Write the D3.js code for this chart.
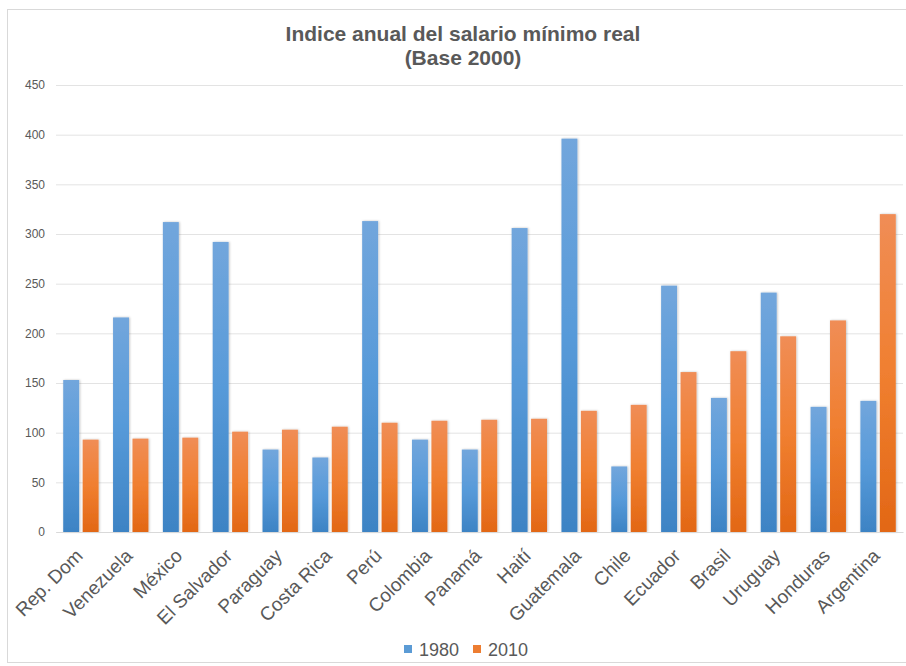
<!DOCTYPE html>
<html>
<head>
<meta charset="utf-8">
<script src="https://cdn.jsdelivr.net/npm/d3@7"></script>
<style>
  html, body { margin: 0; padding: 0; background: #fff; }
  svg { display: block; font-family: "Liberation Sans", Arial, sans-serif; }
</style>
</head>
<body>
<svg id="chart" width="906" height="666"></svg>
<script>
const categories = ["Rep. Dom","Venezuela","México","El Salvador","Paraguay","Costa Rica","Perú","Colombia","Panamá","Haití","Guatemala","Chile","Ecuador","Brasil","Uruguay","Honduras","Argentina"];
const values1980 = [153,216,312,292,83,75,313,93,83,306,396,66,248,135,241,126,132];
const values2010 = [93,94,95,101,103,106,110,112,113,114,122,128,161,182,197,213,320];
const seriesNames = ["1980","2010"];
const yTicks = [0,50,100,150,200,250,300,350,400,450];

const svg = d3.select("#chart");
const W = 906, H = 666;
const m = {left: 56, right: 3, top: 86, bottom: 134};
const x0 = d3.scaleBand().domain(categories).range([m.left, W - m.right]).paddingInner(0.29).paddingOuter(0.145);
const x1 = d3.scaleBand().domain(seriesNames).range([0, x0.bandwidth()]).paddingInner(0.18);
const y = d3.scaleLinear().domain([0, 450]).range([532, 85]);

// chart border
svg.append("rect").attr("x", 7.5).attr("y", 9.5).attr("width", 920).attr("height", 653)
  .attr("fill", "#fff").attr("stroke", "#d9d9d9").attr("stroke-width", 1);

const defs = svg.append("defs");
const g1 = defs.append("linearGradient").attr("id", "gBlue").attr("x1", 0).attr("y1", 0).attr("x2", 0).attr("y2", 1);
g1.append("stop").attr("offset", "0%").attr("stop-color", "#72a6dc");
g1.append("stop").attr("offset", "50%").attr("stop-color", "#579ad9");
g1.append("stop").attr("offset", "100%").attr("stop-color", "#3d83c4");
const g2 = defs.append("linearGradient").attr("id", "gOrange").attr("x1", 0).attr("y1", 0).attr("x2", 0).attr("y2", 1);
g2.append("stop").attr("offset", "0%").attr("stop-color", "#f08d56");
g2.append("stop").attr("offset", "50%").attr("stop-color", "#f07f30");
g2.append("stop").attr("offset", "100%").attr("stop-color", "#e26715");
const f = defs.append("filter").attr("id", "sh").attr("x", "-20%").attr("y", "-5%").attr("width", "140%").attr("height", "110%");
f.append("feDropShadow").attr("dx", 0.8).attr("dy", 0).attr("stdDeviation", 0.8).attr("flood-color", "#000").attr("flood-opacity", 0.25);

// Title
svg.append("text").attr("x", 463).attr("y", 41).attr("text-anchor", "middle")
  .attr("font-size", 21).attr("font-weight", "bold").attr("fill", "#595959")
  .text("Indice anual del salario mínimo real");
svg.append("text").attr("x", 463).attr("y", 64.5).attr("text-anchor", "middle")
  .attr("font-size", 21).attr("font-weight", "bold").attr("fill", "#595959")
  .text("(Base 2000)");

// gridlines
const yAxis = d3.axisLeft(y).tickValues(yTicks).tickSize(-(W - m.right - m.left)).tickPadding(11);
const gy = svg.append("g").attr("transform", `translate(${m.left},0)`).call(yAxis);
gy.select(".domain").remove();
gy.selectAll(".tick line").attr("stroke", "#e3e3e3").attr("stroke-width", 1);
gy.selectAll(".tick text").attr("font-size", 12).attr("fill", "#595959")
  .attr("font-family", "Liberation Sans, Arial, sans-serif");

// bars
const data = categories.map((c, i) => ({c, vals: [values1980[i], values2010[i]]}));
const groups = svg.append("g").selectAll("g").data(data).join("g")
  .attr("transform", d => `translate(${x0(d.c)},0)`);
groups.selectAll("rect").data(d => d.vals.map((v, j) => ({s: seriesNames[j], v})))
  .join("rect")
  .attr("x", d => x1(d.s))
  .attr("y", d => y(d.v))
  .attr("width", x1.bandwidth())
  .attr("height", d => y(0) - y(d.v))
  .attr("fill", d => d.s === "1980" ? "url(#gBlue)" : "url(#gOrange)")
  .attr("filter", "url(#sh)");

// x axis
const xAxis = d3.axisBottom(x0).tickSize(0).tickPadding(0);
const gx = svg.append("g").attr("transform", `translate(0,${y(0)})`).call(xAxis);
gx.select(".domain").attr("stroke", "#d9d9d9").attr("stroke-width", 1.2);
gx.selectAll(".tick text")
  .attr("font-size", 19).attr("fill", "#595959")
  .attr("font-family", "Liberation Sans, Arial, sans-serif")
  .attr("text-anchor", "end")
  .attr("dy", 0).attr("y", 0)
  .attr("transform", "translate(3,25) rotate(-45)");

// legend
const legendItems = [{name: "1980", color: "#5b9bd5", x: 404}, {name: "2010", color: "#ed7d31", x: 473}];
const lg = svg.append("g");
lg.selectAll("rect").data(legendItems).join("rect")
  .attr("x", d => d.x).attr("y", 645).attr("width", 8).attr("height", 8).attr("fill", d => d.color);
lg.selectAll("text").data(legendItems).join("text")
  .attr("x", d => d.x + 15).attr("y", 655.5).attr("font-size", 18).attr("fill", "#595959")
  .text(d => d.name);
</script>
</body>
</html>
